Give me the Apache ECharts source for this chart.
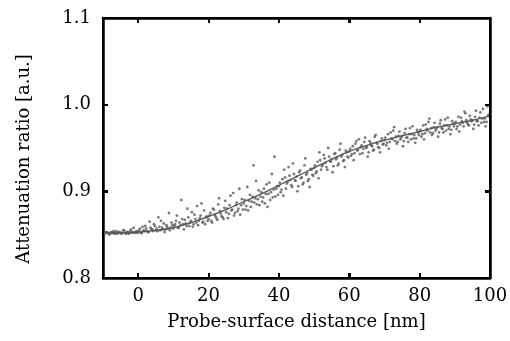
<!DOCTYPE html>
<html><head><meta charset="utf-8">
<script src="https://cdn.jsdelivr.net/npm/echarts@6/dist/echarts.min.js"></script>
<style>html,body{margin:0;padding:0;background:#fff}#wrap{position:relative;width:510px;height:341px}#c{width:510px;height:341px}
.ov{position:absolute;background:#000;pointer-events:none}</style>
</head><body><div id="wrap"><div id="c"></div></div>
<script>
// Measured samples, set A at x = -10, -9.5, ... 100 (step 0.5)
const xStartA = -10, xStartB = -9.75, xStep = 0.5;
const yA = [
0.852,0.851,0.853,0.852,0.851,0.852,0.854,0.852,0.851,0.853,0.852,0.852,0.855,0.851,0.853,0.852,0.856,0.853,0.852,0.854,
0.853,0.857,0.852,0.855,0.860,0.854,0.853,0.858,0.856,0.862,0.855,0.854,0.859,0.866,0.856,0.853,0.861,0.857,0.855,0.864,
0.857,0.862,0.872,0.858,0.861,0.868,0.856,0.863,0.880,0.860,0.866,0.859,0.873,0.864,0.861,0.869,0.886,0.865,0.862,0.871,
0.868,0.875,0.864,0.879,0.871,0.867,0.892,0.874,0.870,0.881,0.876,0.869,0.884,0.878,0.898,0.875,0.887,0.880,0.873,0.891,
0.886,0.879,0.905,0.889,0.882,0.894,0.887,0.912,0.891,0.884,0.899,0.893,0.886,0.908,0.897,0.890,0.920,0.902,0.894,0.906,
0.906,0.899,0.914,0.925,0.903,0.911,0.918,0.907,0.932,0.913,0.917,0.906,0.924,0.916,0.910,0.938,0.921,0.914,0.926,0.919,
0.927,0.921,0.934,0.945,0.925,0.931,0.938,0.928,0.950,0.935,0.937,0.929,0.944,0.939,0.932,0.955,0.942,0.936,0.947,0.940,
0.946,0.941,0.952,0.944,0.958,0.948,0.943,0.953,0.949,0.962,0.951,0.945,0.956,0.952,0.948,0.965,0.955,0.950,0.958,0.954,
0.959,0.953,0.966,0.957,0.961,0.970,0.958,0.955,0.964,0.960,0.964,0.958,0.972,0.962,0.966,0.960,0.975,0.965,0.961,0.968,
0.969,0.963,0.976,0.967,0.972,0.980,0.968,0.965,0.974,0.970,0.974,0.968,0.982,0.972,0.976,0.970,0.985,0.975,0.971,0.978,
0.978,0.972,0.986,0.977,0.981,0.975,0.990,0.979,0.976,0.983,0.982,0.977,0.993,0.981,0.985,0.979,0.995,0.984,0.980,0.988,
0.990];
// Set B at x = -9.75, -9.25, ... 99.75
const yB = [
0.851,0.853,0.852,0.850,0.853,0.852,0.851,0.854,0.852,0.853,0.851,0.855,0.852,0.853,0.851,0.854,0.852,0.858,0.853,0.852,
0.855,0.852,0.859,0.854,0.857,0.853,0.865,0.856,0.854,0.860,0.857,0.870,0.855,0.858,0.863,0.856,0.859,0.875,0.858,0.861,
0.860,0.866,0.858,0.864,0.890,0.862,0.867,0.860,0.870,0.864,0.876,0.862,0.868,0.883,0.866,0.872,0.864,0.878,0.870,0.866,
0.872,0.866,0.880,0.873,0.869,0.885,0.877,0.871,0.868,0.889,0.880,0.874,0.895,0.879,0.872,0.884,0.877,0.903,0.884,0.879,
0.890,0.883,0.878,0.896,0.888,0.930,0.892,0.885,0.901,0.894,0.888,0.903,0.897,0.882,0.910,0.899,0.893,0.940,0.903,0.896,
0.910,0.902,0.895,0.916,0.909,0.928,0.913,0.905,0.920,0.912,0.900,0.922,0.915,0.908,0.930,0.919,0.912,0.905,0.925,0.918,
0.930,0.923,0.915,0.936,0.929,0.942,0.933,0.925,0.940,0.934,0.922,0.943,0.937,0.930,0.948,0.940,0.935,0.928,0.945,0.939,
0.949,0.943,0.936,0.955,0.947,0.960,0.951,0.944,0.957,0.950,0.940,0.958,0.953,0.947,0.963,0.956,0.951,0.945,0.961,0.955,
0.962,0.956,0.949,0.968,0.960,0.974,0.963,0.957,0.969,0.962,0.952,0.967,0.962,0.957,0.973,0.966,0.961,0.956,0.971,0.965,
0.971,0.966,0.960,0.977,0.970,0.984,0.973,0.967,0.979,0.972,0.963,0.978,0.973,0.968,0.983,0.976,0.972,0.966,0.981,0.975,
0.980,0.975,0.969,0.985,0.979,0.992,0.982,0.977,0.987,0.981,0.972,0.986,0.981,0.976,0.991,0.984,0.980,0.975,0.998,0.987];
// Fit curve
const fitX = [-10,-5,0,5,10,15,20,25,30,35,40,45,50,55,60,65,70,75,80,85,90,95,100];
const fitY = [0.852,0.852,0.853,0.855,0.858,0.864,0.871,0.879,0.888,0.897,0.907,0.917,0.927,0.937,0.946,0.953,0.959,0.964,0.969,0.974,0.978,0.982,0.987];
const xTickLabels = [0,20,40,60,80,100];
const xTicks = [0,20,40,60,80];
const yTicks = [0.9,1.0];
const xMin = -10, xMax = 100, yMin = 0.8, yMax = 1.1;

const ptsA = yA.map((v,i)=>[xStartA + xStep*i, v]);
const ptsB = yB.map((v,i)=>[xStartB + xStep*i, v]);
const fit = fitX.map((x,i)=>[x, fitY[i]]);

const font = 'DejaVu Serif';
const W = 510, H = 341, GL = 103, GR = 20, GT = 18, GB = 63;
const chart = echarts.init(document.getElementById('c'));
const mkLine = () => ({show:true, onZero:false, lineStyle:{color:'#000', width:2.5}});
const mkTick = (vals) => { const t = {show:true, inside:true, length:5, lineStyle:{color:'#000', width:2}}; if (vals) t.customValues = vals.slice(); return t; };
chart.setOption({
  animation:false,
  backgroundColor:'#fff',
  grid:{left:GL, right:GR, top:GT, bottom:GB, outerBoundsMode:'none'},
  xAxis:[
    {type:'value', min:xMin, max:xMax, position:'bottom',
     axisLine:mkLine(), splitLine:{show:false}, axisTick:mkTick(xTicks),
     axisLabel:{customValues:xTickLabels.slice(), color:'#000', fontFamily:font, fontSize:18, margin:9},
     name:'Probe-surface distance [nm]', nameLocation:'middle', nameGap:35,
     nameTextStyle:{color:'#000', fontFamily:font, fontSize:18}},
    {type:'value', min:xMin, max:xMax, position:'top',
     axisLine:mkLine(), splitLine:{show:false}, axisTick:mkTick(xTicks), axisLabel:{show:false}}
  ],
  yAxis:[
    {type:'value', min:yMin, max:yMax, interval:0.1, position:'left',
     axisLine:mkLine(), splitLine:{show:false}, axisTick:mkTick(),
     axisLabel:{color:'#000', fontFamily:font, fontSize:18, margin:12, formatter:v=>v.toFixed(1)},
     name:'Attenuation ratio [a.u.]', nameLocation:'middle', nameGap:70, nameRotate:90,
     nameTextStyle:{color:'#000', fontFamily:font, fontSize:18, padding:[0,22,0,0]}},
    {type:'value', min:yMin, max:yMax, interval:0.1, position:'right',
     axisLine:mkLine(), splitLine:{show:false}, axisTick:mkTick(), axisLabel:{show:false}}
  ],
  series:[
    {type:'scatter', data:ptsA, symbolSize:2.8, itemStyle:{color:'#5a5a5a'}},
    {type:'scatter', data:ptsB, symbolSize:2.8, itemStyle:{color:'#5a5a5a'}},
    {type:'line', data:fit, smooth:true, symbol:'none', lineStyle:{color:'#555', width:1.3}}
  ]
});

// Frame and inward ticks as an overlay, placed through the chart's scales
// (falls back to the grid layout if a conversion is not available).
let L = chart.convertToPixel({xAxisIndex:0}, xMin);
let R = chart.convertToPixel({xAxisIndex:0}, xMax);
let T = chart.convertToPixel({yAxisIndex:0}, yMax);
let B = chart.convertToPixel({yAxisIndex:0}, yMin);
if (!isFinite(L)) L = GL;
if (!isFinite(R)) R = W - GR;
if (!isFinite(T)) T = GT;
if (!isFinite(B)) B = H - GB;
const sx = v => { const p = chart.convertToPixel({xAxisIndex:0}, v); return isFinite(p) ? p : L + (v - xMin) / (xMax - xMin) * (R - L); };
const sy = v => { const p = chart.convertToPixel({yAxisIndex:0}, v); return isFinite(p) ? p : B - (v - yMin) / (yMax - yMin) * (B - T); };
const wrap = document.getElementById('wrap');
function bar(x, y, w, h) {
  const d = document.createElement('div');
  d.className = 'ov';
  d.style.left = x + 'px'; d.style.top = y + 'px';
  d.style.width = w + 'px'; d.style.height = h + 'px';
  wrap.appendChild(d);
}
const lw = 2.5, tl = 5, tw = 2;
bar(L - lw/2, T - lw/2, R - L + lw, lw);   // top
bar(L - lw/2, B - lw/2, R - L + lw, lw);   // bottom
bar(L - lw/2, T - lw/2, lw, B - T + lw);   // left
bar(R - lw/2, T - lw/2, lw, B - T + lw);   // right
xTicks.forEach(v => { const x = sx(v); bar(x - tw/2, B - tl, tw, tl); bar(x - tw/2, T, tw, tl); });
yTicks.forEach(v => { const y = sy(v); bar(L, y - tw/2, tl, tw); bar(R - tl, y - tw/2, tl, tw); });
</script></body></html>
